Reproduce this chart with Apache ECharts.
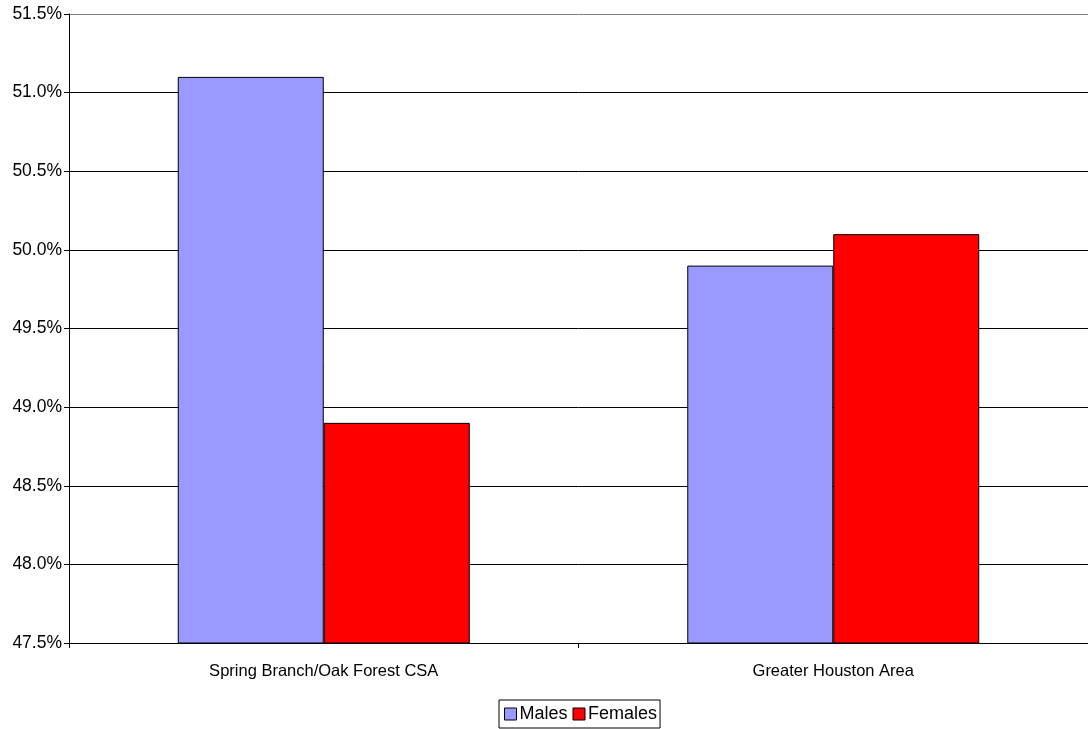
<!DOCTYPE html>
<html><head><meta charset="utf-8">
<script src="https://cdn.jsdelivr.net/npm/echarts@6/dist/echarts.min.js"></script>
<style>html,body{margin:0;padding:0;background:#fff}#c{width:1088px;height:729px}</style>
</head><body><div id="c"></div>
<script>
const categories = ['Spring Branch/Oak Forest CSA', 'Greater Houston Area'];
const males = [51.1, 49.9];
const females = [48.9, 50.1];
const yMin = 47.5, yMax = 51.5, yStep = 0.5;

const chart = echarts.init(document.getElementById('c'), null, {renderer: 'canvas'});
const font = 'Liberation Sans, Arial, sans-serif';
chart.setOption({
  animation: false,
  textStyle: {fontFamily: font},
  grid: {left: 69, right: -2, top: 14, bottom: 86},
  legend: {
    bottom: 1, left: 499,
    data: ['Males', 'Females'],
    icon: 'rect',
    itemWidth: 12, itemHeight: 12, itemGap: 5,
    borderColor: '#000', borderWidth: 1, padding: [5, 3, 5, 5],
    textStyle: {fontFamily: font, fontSize: 18, color: '#000', padding: [0, 0, 0, -2]},
    itemStyle: {borderColor: '#000', borderWidth: 1}
  },
  xAxis: {
    type: 'category', data: categories,
    axisLine: {lineStyle: {color: '#000', width: 1}},
    axisTick: {show: true, length: 5, lineStyle: {color: '#000'}},
    axisLabel: {fontFamily: font, fontSize: 16.5, color: '#000', margin: 20},
    splitLine: {show: false}
  },
  yAxis: {
    type: 'value', min: yMin, max: yMax, interval: yStep,
    axisLine: {show: true, lineStyle: {color: '#000', width: 1}},
    axisTick: {show: true, length: 5, lineStyle: {color: '#000'}},
    axisLabel: {fontFamily: font, fontSize: 17.5, color: '#000', margin: 7,
      formatter: v => v.toFixed(1) + '%'},
    splitLine: {show: true, lineStyle: {color: ['#000','#000','#000','#000','#000','#000','#000','#000','#808080'], width: 1}}
  },
  series: [
    {name: 'Males', type: 'bar', data: males, barWidth: 146, barGap: '0%',
     itemStyle: {color: '#9999FF', borderColor: '#000', borderWidth: 1}},
    {name: 'Females', type: 'bar', data: females, barWidth: 146, barGap: '0%',
     itemStyle: {color: '#FF0000', borderColor: '#000', borderWidth: 1}}
  ]
});
</script></body></html>
